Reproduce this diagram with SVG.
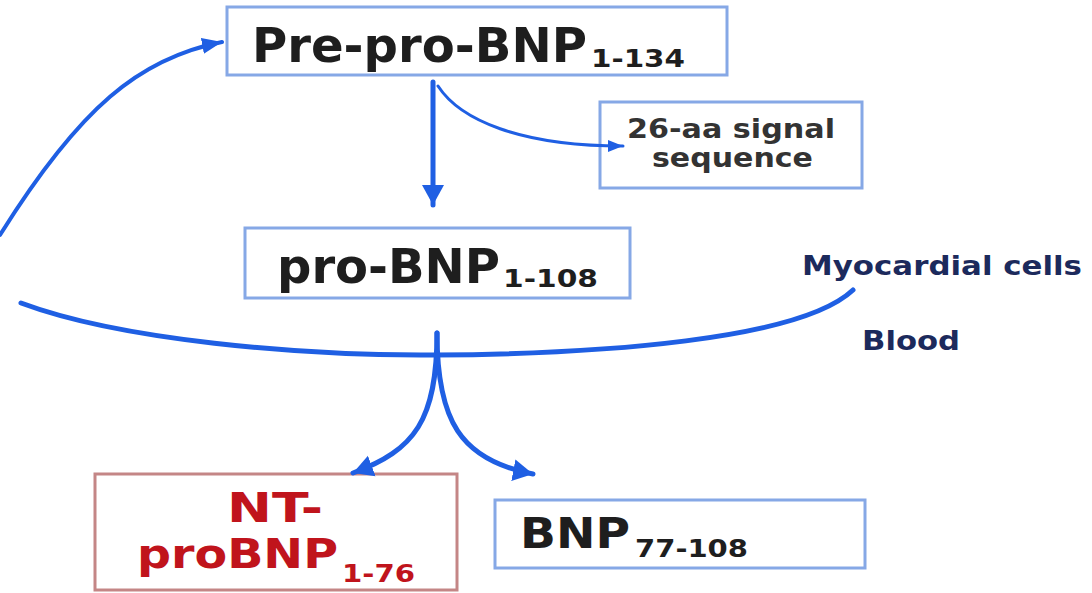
<svg xmlns="http://www.w3.org/2000/svg" width="1092" height="593" viewBox="0 0 1092 593">
<style>
.box{fill:#ffffff;stroke:#86a8e6;stroke-width:3}
.rbox{fill:#ffffff;stroke:#c48686;stroke-width:3}
.t{font-family:"DejaVu Sans","Liberation Sans",sans-serif;font-weight:bold;fill:#1e1e1e}
.g{fill:#333333}
.r{fill:#c0141c}
.n{fill:#1c2a5c}
.c{fill:none;stroke:#1f5fe3;stroke-linecap:round}
</style>
<defs>
<marker id="ab" markerUnits="userSpaceOnUse" markerWidth="24" markerHeight="24" refX="20" refY="12" orient="auto" viewBox="0 0 24 24">
<path d="M0,1 L20,12 L0,23 z" fill="#1f5fe3"/>
</marker>
<marker id="am" markerUnits="userSpaceOnUse" markerWidth="22" markerHeight="18" refX="20" refY="9" orient="auto" viewBox="0 0 22 18">
<path d="M0,1 L20,9 L0,17 z" fill="#1f5fe3"/>
</marker>
<marker id="as" markerUnits="userSpaceOnUse" markerWidth="16" markerHeight="14" refX="15" refY="7" orient="auto" viewBox="0 0 16 14">
<path d="M0,1 L15,7 L0,13 z" fill="#1f5fe3"/>
</marker>
</defs>
<g id="node-prepro">
<rect class="box" x="227" y="7" width="500" height="68"/>
<text class="t" x="252" y="62" font-size="48" textLength="335" lengthAdjust="spacingAndGlyphs">Pre-pro-BNP</text>
<text class="t" x="591" y="67" font-size="25" textLength="94" lengthAdjust="spacingAndGlyphs">1-134</text>
</g>
<g id="node-signal">
<rect class="box" x="600" y="102" width="262" height="86"/>
<text class="t g" x="627" y="138" font-size="27" textLength="208" lengthAdjust="spacingAndGlyphs">26-aa signal</text>
<text class="t g" x="652" y="167" font-size="27" textLength="161" lengthAdjust="spacingAndGlyphs">sequence</text>
</g>
<g id="node-probnp">
<rect class="box" x="245" y="228" width="385" height="70"/>
<text class="t" x="277" y="283" font-size="48" textLength="223" lengthAdjust="spacingAndGlyphs">pro-BNP</text>
<text class="t" x="503" y="287" font-size="25" textLength="95" lengthAdjust="spacingAndGlyphs">1-108</text>
</g>
<g id="labels">
<text class="t n" x="802" y="275" font-size="27" textLength="280" lengthAdjust="spacingAndGlyphs">Myocardial cells</text>
<text class="t n" x="862" y="350" font-size="27" textLength="98" lengthAdjust="spacingAndGlyphs">Blood</text>
</g>
<g id="node-ntprobnp">
<rect class="rbox" x="95" y="474" width="362" height="116"/>
<text class="t r" x="227" y="522" font-size="40" textLength="96" lengthAdjust="spacingAndGlyphs">NT-</text>
<text class="t r" x="137" y="568" font-size="40" textLength="201" lengthAdjust="spacingAndGlyphs">proBNP</text>
<text class="t r" x="342" y="582" font-size="25" textLength="73" lengthAdjust="spacingAndGlyphs">1-76</text>
</g>
<g id="node-bnp">
<rect class="box" x="495" y="500" width="370" height="68"/>
<text class="t" x="520" y="548" font-size="42" textLength="110" lengthAdjust="spacingAndGlyphs">BNP</text>
<text class="t" x="635" y="557" font-size="25" textLength="113" lengthAdjust="spacingAndGlyphs">77-108</text>
</g>
<g id="connectors">
<path class="c" d="M0 235 C80 107 140 58 222 42" stroke-width="4" marker-end="url(#am)"/>
<path class="c" d="M433 82 L433 205" stroke-width="5" marker-end="url(#ab)"/>
<path class="c" d="M438 86 C460 120 520 146 623 146" stroke-width="3" marker-end="url(#as)"/>
<path class="c" d="M21 303 C120 340 300 356 434 355 C600 354 800 340 853 290" stroke-width="5"/>
<path class="c" d="M437 333 C437 420 415 450 353 473" stroke-width="5" marker-end="url(#ab)"/>
<path class="c" d="M437 333 C437 420 460 460 533 474" stroke-width="5" marker-end="url(#ab)"/>
</g>
</svg>
